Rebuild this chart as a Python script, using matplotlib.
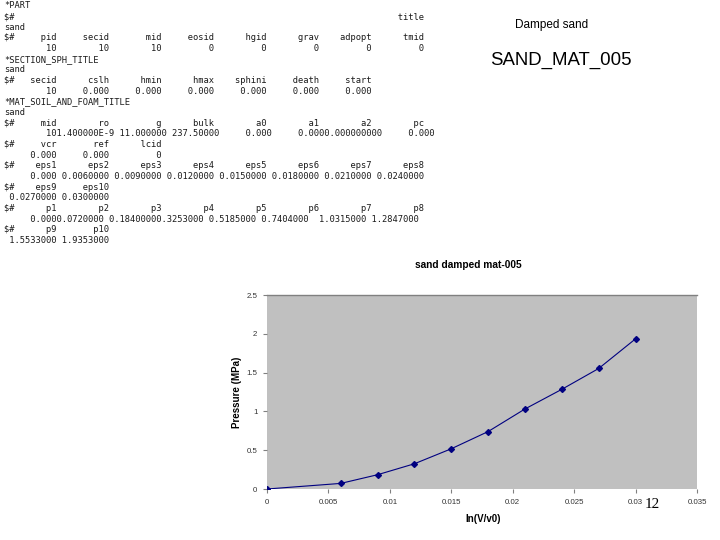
import matplotlib
matplotlib.use("Agg")
import matplotlib.pyplot as plt
from matplotlib.ticker import FuncFormatter

# ---- data ----
eps = [0.0, 0.006, 0.009, 0.012, 0.015, 0.018, 0.021, 0.024, 0.027, 0.030]
pressure = [0.0, 0.072, 0.184, 0.3253, 0.5185, 0.7404, 1.0315, 1.2847, 1.5533, 1.9353]
x_ticks = [0, 0.005, 0.01, 0.015, 0.02, 0.025, 0.03, 0.035]
y_ticks = [0, 0.5, 1, 1.5, 2, 2.5]

W, H = 720, 540
fig = plt.figure(figsize=(W / 100, H / 100), dpi=100)
fig.patch.set_facecolor("white")


def px(x, y):
    return x / W, 1 - y / H


# ---- keyword listing ----
def row(labels, first=8):
    s = "$#" + labels[0].rjust(first)
    for lab in labels[1:]:
        s += lab.rjust(10)
    return s


eps_line1 = "     0.000" + "".join(("%.7f" % v).rjust(10) for v in eps[1:8])
eps_line2 = " " + " ".join("%.7f" % v for v in eps[8:])
p_line1 = ("     0.000" + "%.7f" % pressure[1] + " %.7f" % pressure[2] + "%.7f" % pressure[3]
           + " %.7f" % pressure[4] + " %.7f" % pressure[5] + "  %.7f" % pressure[6] + " %.7f" % pressure[7])
p_line2 = " " + " ".join("%.7f" % v for v in pressure[8:])

lines = [
    "*PART",
    "$#" + "title".rjust(78),
    "sand",
    row(["pid", "secid", "mid", "eosid", "hgid", "grav", "adpopt", "tmid"]),
    "10".rjust(10) * 3 + "0".rjust(10) * 5,
    "*SECTION_SPH_TITLE",
    "sand",
    row(["secid", "cslh", "hmin", "hmax", "sphini", "death", "start"]),
    "10".rjust(10) + "".join("0.000".rjust(10) for _ in range(6)),
    "*MAT_SOIL_AND_FOAM_TITLE",
    "sand",
    row(["mid", "ro", "g", "bulk", "a0", "a1", "a2", "pc"]),
    "        101.400000E-9 11.000000 237.50000     0.000     0.0000.000000000     0.000",
    row(["vcr", "ref", "lcid"]),
    "     0.000     0.000         0",
    row(["eps1", "eps2", "eps3", "eps4", "eps5", "eps6", "eps7", "eps8"]),
    eps_line1,
    row(["eps9", "eps10"]),
    eps_line2,
    row(["p1", "p2", "p3", "p4", "p5", "p6", "p7", "p8"]),
    p_line1,
    row(["p9", "p10"]),
    p_line2,
]
for i, s in enumerate(lines):
    x, y = px(4, 6 + 10.65 * i)
    fig.text(x, y, s, family="DejaVu Sans Mono", fontsize=6.3, color="#1a1a1a",
             ha="left", va="center")

# ---- slide titles ----
fig.text(*px(552, 25), "Damped sand", family="Liberation Sans", fontsize=8.5,
         ha="center", va="center", color="black")
fig.text(*px(561, 60), "SAND_MAT_005", family="Liberation Sans", fontsize=13.4,
         ha="center", va="center", color="black")

# ---- chart ----
ax = fig.add_axes([267 / W, 1 - 489 / H, 430 / W, 194 / H])
ax.set_facecolor("#C0C0C0")
ax.plot(eps, pressure, color="#000080", lw=0.8, marker="D", markersize=3,
        markerfacecolor="#000080", markeredgecolor="#000080", zorder=3)
ax.set_xlim(0, 0.035)
ax.set_ylim(0, 2.5)
ax.set_xticks(x_ticks)
ax.set_yticks(y_ticks)
fmt = FuncFormatter(lambda v, p: "%g" % v)
ax.xaxis.set_major_formatter(fmt)
ax.yaxis.set_major_formatter(fmt)
for side in ["left", "bottom", "right"]:
    ax.spines[side].set_visible(False)
ax.spines["top"].set_color("#808080")
ax.spines["top"].set_linewidth(1.0)
ax.tick_params(axis="both", length=3, width=0.8, color="#808080", direction="out",
               labelsize=5.7, labelcolor="#333333", pad=4)
for lab in ax.get_xticklabels() + ax.get_yticklabels():
    lab.set_family("Liberation Sans")

fig.text(*px(468, 265), "sand damped mat-005", family="Liberation Sans",
         fontsize=7.3, fontweight="bold", ha="center", va="center")
fig.text(*px(237, 392), "Pressure (MPa)", family="Liberation Sans",
         fontsize=7, fontweight="bold", ha="center", va="center", rotation=90)
fig.text(*px(483, 519), "ln(V/v0)", family="Liberation Sans",
         fontsize=7, fontweight="bold", ha="center", va="center")

# page number
fig.text(*px(652, 504), "12", family="Liberation Serif", fontsize=11,
         ha="center", va="center", color="black")

fig.savefig("out.png", dpi=100, facecolor="white")
